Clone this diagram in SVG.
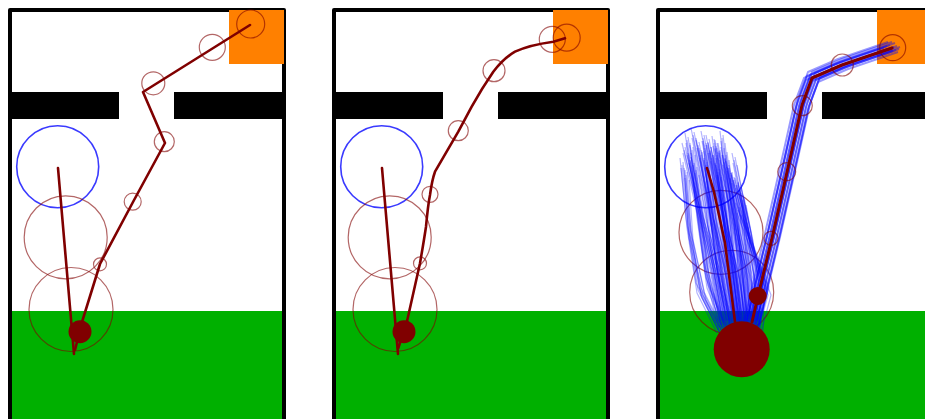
<svg xmlns="http://www.w3.org/2000/svg" xmlns:xlink="http://www.w3.org/1999/xlink" width="925" height="419" viewBox="0 0 925 419">
<style>
.frame{fill:none;stroke:#000;stroke-width:4;stroke-linejoin:round}
.goal{fill:#ff8000}
.floor{fill:#00b000}
.wall{fill:#000}
.start{fill:none;stroke:#3a3aff;stroke-width:1.6}
.ring{fill:none;stroke:#800000;stroke-opacity:0.6;stroke-width:1.2}
.arm{fill:none;stroke:#800000;stroke-width:2.6;stroke-linejoin:round;stroke-linecap:round}
.dot{fill:#800000}
.traj{fill:none;stroke:#0000ff;stroke-opacity:0.3;stroke-width:1.2;stroke-linejoin:round}
.band{fill:none;stroke:#0000ff;stroke-opacity:0.4;stroke-width:2;stroke-linejoin:round}
</style>
<defs>
<g id="scene">
<rect class="floor" x="10" y="311" width="274" height="110"/>
<rect class="wall" x="10" y="92" width="109" height="27"/>
<rect class="wall" x="174" y="92" width="110" height="27"/>
<path class="frame" d="M10,421 V10 H284 V421"/>
<rect class="goal" x="229" y="10" width="55" height="54"/>
<circle class="start" cx="57.7" cy="166.7" r="41"/>
</g>
<g id="fan">
<path d="M36,150L50,209L58,269L72,328"/>
<path d="M39,140L49,203L63,266L74,328"/>
<path d="M42,160L53,216L66,272L76,328"/>
<path d="M45,135L58,199L66,264L78,328"/>
<path d="M48,170L57,223L71,275L80,328"/>
<path d="M50,145L62,206L70,267L81,328"/>
<path d="M53,155L62,213L75,270L83,328"/>
<path d="M55,138L67,201L74,265L85,328"/>
<path d="M58,165L66,219L79,274L87,328"/>
<path d="M60,142L72,204L79,266L88,328"/>
<path d="M62,150L71,209L82,269L90,328"/>
<path d="M64,158L76,215L82,271L91,328"/>
<path d="M66,143L74,205L86,266L92,328"/>
<path d="M68,146L79,207L85,267L94,328"/>
<path d="M70,172L77,224L89,276L95,328"/>
<path d="M72,150L82,209L88,269L97,328"/>
<path d="M74,138L81,201L93,265L98,328"/>
<path d="M76,162L87,217L92,273L99,328"/>
<path d="M78,155L85,213L96,270L100,328"/>
<path d="M80,168L91,221L95,275L102,328"/>
<path d="M83,175L89,226L100,277L104,328"/>
<path d="M86,160L97,216L100,272L106,328"/>
<path d="M89,185L96,233L105,280L108,328"/>
<path d="M92,190L102,236L108,282L110,328"/>
<path d="M95,200L103,243L113,285L112,328"/>
<path d="M90,210L105,250L120,290L110,328"/>
<path d="M85,180L100,235L117,290L106,330"/>
<path d="M34,165L40,225L50,290L70,330"/>
<path d="M38,175L42,235L55,295L73,330"/>
<path d="M44,150L50,215L60,285L78,330"/>
<path d="M57,148L63,212L72,282L84,330"/>
<path d="M69,155L77,220L86,285L93,330"/>
</g>
<path id="b2" d="M104,322 L110,296 L124,238 L139,172 L154,105 L164,78 L194,65 L244,48"/>
</defs>

<g id="panel1">
<use xlink:href="#scene"/>
<circle class="ring" cx="65.7" cy="237.3" r="41.5"/>
<circle class="ring" cx="71" cy="309.5" r="42"/>
<circle class="ring" cx="100" cy="264.3" r="6.5"/>
<circle class="ring" cx="132.7" cy="201.7" r="8.5"/>
<circle class="ring" cx="164.3" cy="141.7" r="10"/>
<circle class="ring" cx="153.3" cy="83.3" r="11.5"/>
<circle class="ring" cx="212.3" cy="47.3" r="13"/>
<circle class="ring" cx="250.7" cy="24" r="14"/>
<path class="arm" d="M58,168 L74,354"/>
<path class="arm" d="M75,350 L82,322 L100,264 L133,202 L165,143 L143,92 L250,25"/>
<circle class="dot" cx="80" cy="331.7" r="11.5"/>
</g>

<g id="panel2" transform="translate(324,0)">
<use xlink:href="#scene"/>
<circle class="ring" cx="65.7" cy="237.3" r="41.5"/>
<circle class="ring" cx="71" cy="309.5" r="42"/>
<circle class="ring" cx="96" cy="263.3" r="6.5"/>
<circle class="ring" cx="106" cy="194.3" r="8"/>
<circle class="ring" cx="134.3" cy="130.7" r="10"/>
<circle class="ring" cx="170" cy="70.7" r="11"/>
<circle class="ring" cx="228.3" cy="39.3" r="13"/>
<circle class="ring" cx="242.7" cy="37.7" r="13.5"/>
<path class="arm" d="M58,168 L74,354"/>
<path class="arm" d="M74.3,348 L83.3,320 L96,263.3 Q100,240 102,226.7 Q104,205 106,195 Q108,180 111,171.7 L134.3,131.7 L147.7,106.7 Q158,88 169.3,71.7 Q180,58 191,51.7 Q205,45 229.3,41.7 L241,38.3"/>
<circle class="dot" cx="80" cy="331.7" r="11.5"/>
</g>

<g id="panel3" transform="translate(648,0)">
<use xlink:href="#scene"/>
<circle class="ring" cx="73" cy="232.3" r="42"/>
<circle class="ring" cx="83.7" cy="292.3" r="42"/>
<g class="traj">
<use xlink:href="#fan"/>
<use xlink:href="#fan" transform="translate(3,5)"/>
<use xlink:href="#fan" transform="translate(-2,-7)"/>
<use xlink:href="#fan" transform="translate(1,-3)"/>
<use xlink:href="#fan" transform="translate(-1,3)"/>
</g>
<g class="band">
<use xlink:href="#b2" transform="translate(-8,0)"/>
<use xlink:href="#b2" transform="translate(-6,2)"/>
<use xlink:href="#b2" transform="translate(-5,-2)"/>
<use xlink:href="#b2" transform="translate(-3,1)"/>
<use xlink:href="#b2" transform="translate(-2,-3)"/>
<use xlink:href="#b2" transform="translate(0,2)"/>
<use xlink:href="#b2" transform="translate(1,3)"/>
<use xlink:href="#b2" transform="translate(2,-1)"/>
<use xlink:href="#b2" transform="translate(4,2)"/>
<use xlink:href="#b2" transform="translate(5,-2)"/>
<use xlink:href="#b2" transform="translate(7,1)"/>
<use xlink:href="#b2" transform="translate(8,-1)"/>
<use xlink:href="#b2" transform="translate(0,-6)"/>
<use xlink:href="#b2" transform="translate(3,-5)"/>
<use xlink:href="#b2" transform="translate(-4,-6)"/>
<use xlink:href="#b2" transform="translate(6,4)"/>
</g>
<circle class="ring" cx="123" cy="238.3" r="7"/>
<circle class="ring" cx="138.7" cy="171.7" r="9"/>
<circle class="ring" cx="154.3" cy="105.7" r="10"/>
<circle class="ring" cx="194.3" cy="65" r="11"/>
<circle class="ring" cx="244.7" cy="47.7" r="13"/>
<path class="arm" d="M59,168 L66,192 L77,243 L87,322"/>
<path class="arm" style="stroke-width:3" d="M104,322 L110,296 L124,238 L139,172 L154,105 L164,78 L194,65 L244,48"/>
<circle class="dot" cx="93.7" cy="349.3" r="28"/>
<circle class="dot" cx="109.7" cy="296" r="9"/>
</g>
</svg>
